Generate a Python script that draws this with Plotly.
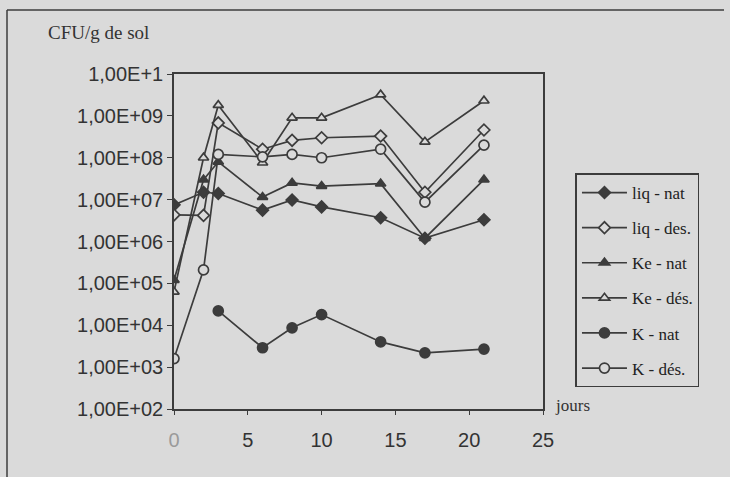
import plotly.graph_objects as go

jours = [0, 2, 3, 6, 8, 10, 14, 17, 21]
jours_k_nat = [3, 6, 8, 10, 14, 17, 21]

liq_nat = [7.5e6, 1.5e7, 1.4e7, 5.6e6, 9.8e6, 6.7e6, 3.7e6, 1.2e6, 3.3e6]
liq_des = [4.3e6, 4.2e6, 6.8e8, 1.6e8, 2.6e8, 3.0e8, 3.3e8, 1.5e7, 4.6e8]
ke_nat = [1.2e5, 3.0e7, 8.0e7, 1.15e7, 2.5e7, 2.1e7, 2.4e7, 1.2e6, 3.0e7]
ke_des = [6.3e4, 1.0e8, 1.8e9, 7.6e7, 9.0e8, 9.0e8, 3.2e9, 2.4e8, 2.3e9]
k_nat = [2.2e4, 2.9e3, 8.7e3, 1.8e4, 4.0e3, 2.2e3, 2.7e3]
k_des = [1.6e3, 2.1e5, 1.2e8, 1.05e8, 1.2e8, 1.0e8, 1.6e8, 8.7e6, 2.0e8]

series_names = ["liq - nat", "liq - des.", "Ke - nat", "Ke - dés.", "K - nat", "K - dés."]

y_tickvals = [1e2, 1e3, 1e4, 1e5, 1e6, 1e7, 1e8, 1e9, 1e10]
y_ticktext = ["1,00E+02", "1,00E+03", "1,00E+04", "1,00E+05", "1,00E+06",
              "1,00E+07", "1,00E+08", "1,00E+09", "1,00E+1"]
x_tickvals = [0, 5, 10, 15, 20, 25]
x_ticktext = ["<span style='color:#9a9a9a'>0</span>", "5", "10", "15", "20", "25"]

BG = "#dadada"
INK = "#3c3c3c"

specs = [
    (jours, liq_nat, "diamond", True, 9),
    (jours, liq_des, "diamond", False, 9),
    (jours, ke_nat, "triangle-up", True, 9),
    (jours, ke_des, "triangle-up", False, 9),
    (jours_k_nat, k_nat, "circle", True, 10),
    (jours, k_des, "circle", False, 10),
]

fig = go.Figure()
for i, (xs, ys, sym, filled, sz) in enumerate(specs):
    fig.add_trace(go.Scatter(
        x=xs, y=ys, name=series_names[i], mode="lines+markers",
        legendgroup=str(i),
        line=dict(color=INK, width=1.7),
        marker=dict(symbol=sym, size=sz, color=INK if filled else BG,
                    line=dict(color=INK, width=1.7)),
    ))

fig.update_layout(
    width=730, height=477,
    margin=dict(l=174, r=187, t=74, b=68),
    paper_bgcolor=BG, plot_bgcolor=BG,
    showlegend=True,
    legend=dict(
        x=1.088, y=0.703, xanchor="left", yanchor="top",
        bordercolor=INK, borderwidth=1.5, bgcolor=BG,
        font=dict(family="Liberation Serif", size=17, color="#222"),
        tracegroupgap=10, itemwidth=45,
    ),
    xaxis=dict(
        range=[0, 25], tickvals=x_tickvals, ticktext=x_ticktext,
        showgrid=False, zeroline=False, showline=True, linecolor=INK, linewidth=1.5,
        mirror=True, ticks="outside", ticklen=4, tickcolor=INK,
        ticklabelstandoff=8,
        tickfont=dict(family="Liberation Sans", size=20, color="#333"),
    ),
    yaxis=dict(
        type="log", range=[2, 10], tickvals=y_tickvals, ticktext=y_ticktext,
        showgrid=False, zeroline=False, showline=True, linecolor=INK, linewidth=1.5,
        mirror=True, ticks="outside", ticklen=5, tickcolor=INK,
        tickfont=dict(family="Liberation Sans", size=20, color="#333"),
    ),
    annotations=[
        dict(text="CFU/g de sol", xref="paper", yref="paper",
             x=(46 - 174) / 369, y=(409 - 33) / 335, xanchor="left", yanchor="middle",
             showarrow=False, font=dict(family="Liberation Serif", size=19, color="#333")),
        dict(text="jours", xref="paper", yref="paper",
             x=(553 - 174) / 369, y=(409 - 405) / 335, xanchor="left", yanchor="middle",
             showarrow=False, font=dict(family="Liberation Serif", size=17, color="#333")),
    ],
    shapes=[
        dict(type="line", xref="paper", yref="paper",
             x0=(7 - 174) / 369, x1=(7 - 174) / 369, y0=(409 - 10) / 335, y1=(409 - 477) / 335,
             line=dict(color=INK, width=1.5)),
        dict(type="line", xref="paper", yref="paper",
             x0=(7 - 174) / 369, x1=(724 - 174) / 369, y0=(409 - 10) / 335, y1=(409 - 10) / 335,
             line=dict(color=INK, width=1.5)),
    ],
)

fig.write_html("out.html")
